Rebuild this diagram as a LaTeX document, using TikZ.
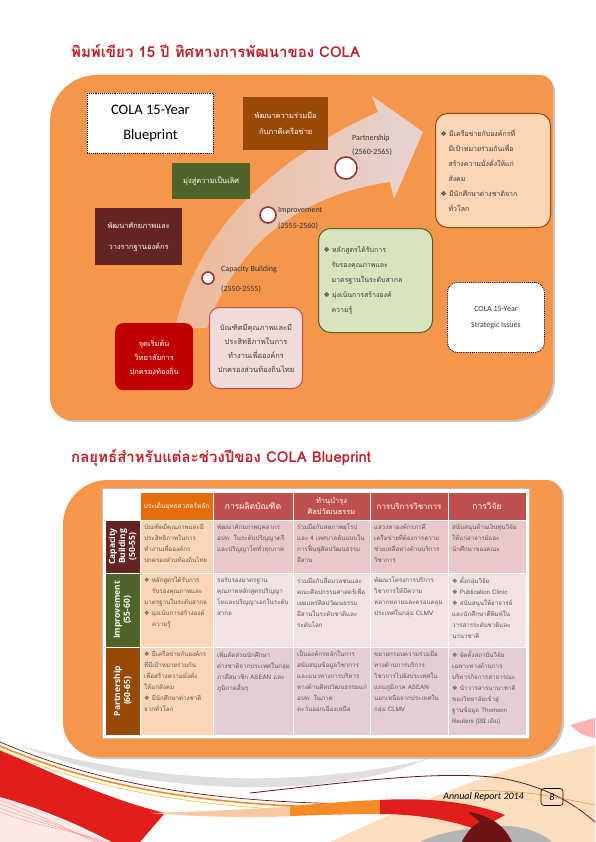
\documentclass[tikz,border=0pt]{standalone}
\usepackage{fontspec}
\setmainfont{Carlito}
\newfontfamily\thaifont[Script=Thai]{Loma}
\newfontfamily\djv{DejaVu Sans}
\newfontfamily\osans{Open Sans}
\definecolor{panelorange}{RGB}{245,150,74}
\definecolor{panelshadow}{RGB}{200,200,200}
\definecolor{titlered}{RGB}{192,30,40}
\definecolor{boxbrown}{RGB}{152,72,7}
\definecolor{boxolive}{RGB}{79,98,40}
\definecolor{boxmaroon}{RGB}{99,37,35}
\definecolor{boxred}{RGB}{192,0,0}
\definecolor{pinkfill}{RGB}{242,220,219}
\definecolor{pinkdraw}{RGB}{192,80,77}
\definecolor{greenfill}{RGB}{215,228,189}
\definecolor{peachfill}{RGB}{252,213,181}
\definecolor{circdraw}{RGB}{149,55,53}
\definecolor{bandpink}{RGB}{230,212,210}
\definecolor{bandlow}{RGB}{238,185,150}
\definecolor{hdrorange}{RGB}{228,108,10}
\definecolor{hdrred}{RGB}{192,80,77}
\definecolor{cellA}{RGB}{232,200,200}
\definecolor{cellB}{RGB}{242,226,226}
\definecolor{cellC}{RGB}{228,206,211}
\definecolor{cellpeach}{RGB}{251,213,181}
\definecolor{celltext}{RGB}{90,90,90}
\definecolor{boxtext}{RGB}{60,60,60}
\definecolor{lbltext}{RGB}{50,50,50}
\definecolor{decored}{RGB}{225,30,25}
\definecolor{decodark}{RGB}{110,20,20}
\definecolor{decopeach}{RGB}{253,222,190}
\definecolor{decogray}{RGB}{222,222,222}
\definecolor{decopink}{RGB}{252,232,230}
\definecolor{decoorange}{RGB}{245,140,40}
\definecolor{decolight}{RGB}{250,200,160}
\definecolor{decoyellow}{RGB}{250,200,90}
\definecolor{decogray2}{RGB}{180,180,180}
\newcommand\dbul{{\djv ❖}\ }
\newcommand\ind{\hspace*{8pt}}
\tikzset{
  ttl/.style={anchor=west, inner sep=0pt, text=titlered, font=\thaifont\bfseries\fontsize{15}{18}\selectfont},
  tbox/.style={anchor=north west, inner sep=2pt, align=center, text=white, font=\thaifont\fontsize{7.5}{16}\selectfont},
  circ/.style={circle, fill=white, draw=circdraw, line width=1.6pt, inner sep=0pt},
  lbl/.style={anchor=west, inner sep=0pt, text=lbltext, font=\fontsize{8}{9}\selectfont},
  hdr/.style={inner sep=0pt, align=center, text=white, font=\thaifont\fontsize{8.5}{10}\selectfont},
  rlab/.style={rotate=90, inner sep=0pt, align=center, text=white, font=\osans\bfseries\fontsize{8.5}{10}\selectfont},
  cell/.style={anchor=north west, inner xsep=4pt, inner ysep=4pt, align=left, text=celltext, font=\thaifont\fontsize{6.2}{11}\selectfont},
  cf/.style={draw=white, line width=0.8pt},
}
\begin{document}
\begin{tikzpicture}[x=1pt,y=-1pt]
\useasboundingbox (0,0) rectangle (595,842);
\fill[white] (0,0) rectangle (595,842);

% ---------- bottom decoration ----------
\fill[decopeach] (330,842) .. controls (420,800) and (500,768) .. (595,745) -- (595,842) -- cycle;
\fill[decopink] (0,790) .. controls (40,810) and (80,830) .. (110,842) -- (0,842) -- cycle;
\fill[decogray] (20,745) .. controls (100,780) and (220,795) .. (330,783) .. controls (380,777) and (405,768) .. (430,758) .. controls (380,772) and (300,780) .. (230,778) .. controls (150,775) and (80,763) .. (20,745) -- cycle;
\fill[red!30] (570,725) .. controls (582,735) .. (595,738) -- (595,718) -- cycle;
\fill[decored] (0,750) .. controls (50,772) and (110,800) .. (165,813) -- (140,842) -- (112,842) .. controls (70,820) and (30,805) .. (0,797) -- cycle;
\foreach \d in {0,4,8,12}{
  \draw[red!45, line width=0.3pt] (0,800+\d) .. controls (40,815+\d) and (70,830) .. (95+\d,842);
}
\draw[decodark, line width=0.7pt] (0,742) .. controls (100,785) and (220,805) .. (390,804);
\draw[decoorange, line width=1.6pt] (0,746) .. controls (100,789) and (220,809) .. (390,808);
\draw[decoyellow, line width=0.8pt] (0,750) .. controls (100,793) and (220,813) .. (390,812);
\fill[decolight] (150,813) .. controls (220,811) and (270,808) .. (300,806) -- (300,816) .. controls (250,818) and (200,817) .. (150,813) -- cycle;
\fill[decoorange] (290,806) .. controls (330,803) and (360,800) .. (385,800) -- (385,814) .. controls (350,814) and (320,815) .. (290,816) -- cycle;
\fill[decogray2] (420,842) .. controls (440,831) and (480,826) .. (510,826) .. controls (530,828) and (545,835) .. (552,842) -- cycle;
\fill[decored] (380,800) .. controls (430,797) and (475,803) .. (505,815) -- (478,830) .. controls (445,818) and (410,814) .. (380,814) -- cycle;
\fill[decodark] (468,812) .. controls (490,815) and (505,826) .. (512,842) -- (462,842) .. controls (466,833) and (472,826) .. (480,822) -- cycle;
\draw[decodark, line width=0.8pt] (250,793) .. controls (350,782) and (440,770) .. (500,778) .. controls (540,785) and (570,800) .. (595,822);
\draw[decoorange, line width=0.5pt] (470,790) .. controls (530,792) .. (595,805);
\draw[decolight, line width=0.5pt] (480,795) .. controls (540,800) .. (595,812);

% ---------- titles ----------
\node[ttl] (t1) at (71,51) {พิมพ์เขียว 15 ปี ทิศทางการพัฒนาของ COLA};
\node[ttl] (t2) at (71,458) {กลยุทธ์สำหรับแต่ละช่วงปีของ COLA Blueprint};

% ---------- top panel ----------
\fill[panelshadow] (52,124) .. controls (52,98) and (73,77) .. (99,77) -- (542,77) .. controls (549,77) and (555,83) .. (555,90) -- (555,380) .. controls (555,403) and (536,422) .. (513,422) -- (74,422) .. controls (62,422) and (52,412) .. (52,400) -- cycle;
\fill[panelorange] (50,122) .. controls (50,96) and (71,75) .. (97,75) -- (540,75) .. controls (547,75) and (553,81) .. (553,88) -- (553,378) .. controls (553,401) and (534,420) .. (511,420) -- (72,420) .. controls (60,420) and (50,410) .. (50,398) -- cycle;

% arrow band
\shade[left color=bandlow, right color=bandpink] (175,328) .. controls (195,240) and (260,165) .. (378,112) -- (372,96) -- (423,132) -- (394,199) -- (390,182) .. controls (300,195) and (235,245) .. (207,328) -- cycle;

\node[circ, minimum size=12pt] (c1) at (208,278) {};
\node[circ, minimum size=16pt] (c2) at (268,215) {};
\node[circ, minimum size=22pt] (c3) at (346,168) {};
\node[lbl] (l1) at (221,269) {Capacity Building};
\node[lbl] (l1y) at (221,289) {(2550-2555)};
\node[lbl] (l2) at (278,211) {Improvement};
\node[lbl] (l2y) at (278,226) {(2555-2560)};
\node[lbl] (l3) at (352,138) {Partnership};
\node[lbl] (l3y) at (352,152) {(2560-2565)};

\node[tbox, fill=white, draw=black, densely dotted, line width=0.9pt, text=black, minimum width=126pt, minimum height=60pt, font=\fontsize{14.5}{25}\selectfont] (bp) at (87,93) {COLA 15-Year\\Blueprint};
\node[tbox, fill=boxbrown, minimum width=85pt, minimum height=53pt] (b1) at (243,97) {พัฒนาความร่วมมือ\\กับภาคีเครือข่าย};
\node[tbox, fill=boxolive, minimum width=78pt, minimum height=36pt] (b2) at (172,163) {มุ่งสู่ความเป็นเลิศ};
\node[tbox, fill=boxmaroon, minimum width=87pt, minimum height=57pt, font=\thaifont\fontsize{7.5}{21}\selectfont] (b3) at (95,208) {พัฒนาศักยภาพและ\\วางรากฐานองค์กร};
\node[tbox, fill=boxred, rounded corners=8pt, minimum width=78pt, minimum height=67pt, font=\thaifont\fontsize{7.5}{14}\selectfont] (b4) at (115,323) {จุดเริ่มต้น\\วิทยาลัยการ\\ปกครองท้องถิ่น};
\node[tbox, fill=pinkfill, draw=pinkdraw, line width=1pt, rounded corners=10pt, text=boxtext, minimum width=93pt, minimum height=81pt, font=\thaifont\fontsize{7.5}{14}\selectfont] (b5) at (209,307) {บัณฑิตมีคุณภาพและมี\\ประสิทธิภาพในการ\\ทำงานเพื่อองค์กร\\ปกครองส่วนท้องถิ่นไทย};
\node[tbox, fill=greenfill, draw=boxolive, line width=1pt, rounded corners=12pt, text=boxtext, align=left, text width=104pt, minimum height=104pt, inner xsep=5pt, font=\thaifont\fontsize{7}{15}\selectfont] (b6) at (318,228) {\dbul หลักสูตรได้รับการ\\\ind รับรองคุณภาพและ\\\ind มาตรฐานในระดับสากล\\\dbul มุ่งเน้นการสร้างองค์\\\ind ความรู้};
\node[tbox, fill=peachfill, draw=boxbrown, line width=1pt, rounded corners=12pt, text=boxtext, align=left, text width=105pt, minimum height=114pt, inner xsep=5pt, font=\thaifont\fontsize{7}{15}\selectfont] (b7) at (435,113) {\dbul มีเครือข่ายกับองค์กรที่\\\ind มีเป้าหมายร่วมกันเพื่อ\\\ind สร้างความมั่งคั่งให้แก่\\\ind สังคม\\\dbul มีนักศึกษาต่างชาติจาก\\\ind ทั่วโลก};
\node[tbox, fill=white, draw=black, densely dotted, line width=0.9pt, rounded corners=10pt, text=boxtext, minimum width=97pt, minimum height=70pt, font=\fontsize{8}{16}\selectfont] (b8) at (447,282) {COLA 15-Year\\Strategic Issues};

% ---------- table panel ----------
\fill[panelshadow] (65,527) .. controls (65,502) and (85,482) .. (110,482) -- (549,482) .. controls (557,482) and (564,489) .. (564,497) -- (564,722) .. controls (564,742) and (547,759) .. (527,759) -- (102,759) .. controls (82,759) and (65,744) .. (65,724) -- cycle;
\fill[panelorange] (63,525) .. controls (63,500) and (83,480) .. (108,480) -- (547,480) .. controls (555,480) and (562,487) .. (562,495) -- (562,720) .. controls (562,740) and (545,757) .. (525,757) -- (100,757) .. controls (80,757) and (63,742) .. (63,722) -- cycle;
\fill[white, draw=gray!50, line width=0.5pt] (102,488) rectangle (529,738);

% header
\filldraw[cf, fill=hdrorange] (140,492) rectangle (213,520);
\filldraw[cf, fill=hdrred] (213,492) rectangle (293,520);
\filldraw[cf, fill=hdrred] (293,492) rectangle (370,520);
\filldraw[cf, fill=hdrred] (370,492) rectangle (448,520);
\filldraw[cf, fill=hdrred] (448,492) rectangle (526,520);
\node[hdr, font=\thaifont\fontsize{6.5}{8}\selectfont] (h1) at (176.5,506) {ประเด็นยุทธศาสตร์หลัก};
\node[hdr] (h2) at (253,506) {การผลิตบัณฑิต};
\node[hdr, font=\thaifont\fontsize{7.5}{11}\selectfont] (h3) at (331.5,506) {ทำนุบำรุง\\ศิลปวัฒนธรรม};
\node[hdr, font=\thaifont\fontsize{8}{10}\selectfont] (h4) at (409,506) {การบริการวิชาการ};
\node[hdr] (h5) at (487,506) {การวิจัย};

% row labels
\filldraw[cf, fill=boxmaroon] (105,520) rectangle (140,573);
\filldraw[cf, fill=boxolive] (105,573) rectangle (140,647);
\filldraw[cf, fill=boxbrown] (105,647) rectangle (140,735);
\node[rlab] (rl1) at (122.5,546.5) {Capacity\\Building\\(50-55)};
\node[rlab] (rl2) at (122.5,610) {Improvement\\(55-60)};
\node[rlab] (rl3) at (122.5,691) {Partnership\\(60-65)};

% cell fills
\filldraw[cf, fill=cellpeach] (140,520) rectangle (213,573);
\filldraw[cf, fill=cellpeach] (140,573) rectangle (213,647);
\filldraw[cf, fill=cellpeach] (140,647) rectangle (213,735);
\foreach \xa/\xb in {213/293,293/370,370/448,448/526}{
  \filldraw[cf, fill=cellA] (\xa,520) rectangle (\xb,573);
  \filldraw[cf, fill=cellB] (\xa,573) rectangle (\xb,647);
  \filldraw[cf, fill=cellC] (\xa,647) rectangle (\xb,735);
}

% row 1
\node[cell, text width=65pt] (r1c1) at (140,520) {บัณฑิตมีคุณภาพและมี\\ประสิทธิภาพในการ\\ทำงานเพื่อองค์กร\\ปกครองส่วนท้องถิ่นไทย};
\node[cell, text width=72pt] (r1c2) at (213,520) {พัฒนาศักยภาพบุคลากร\\อปท. ในระดับปริญญาตรี\\และปริญญาโททั่วทุกภาค};
\node[cell, text width=69pt] (r1c3) at (293,520) {ร่วมมือกับสหภาพยุโรป\\และ 4 เทศบาลต้นแบบใน\\การฟื้นฟูศิลปวัฒนธรรม\\อีสาน};
\node[cell, text width=70pt] (r1c4) at (370,520) {แสวงหาองค์กรภาคี\\เครือข่ายที่ต้องการความ\\ช่วยเหลือทางด้านบริการ\\วิชาการ};
\node[cell, text width=70pt] (r1c5) at (448,520) {สนับสนุนด้านเงินทุนวิจัย\\ให้แก่อาจารย์และ\\นักศึกษาของคณะ};

% row 2
\node[cell, text width=65pt] (r2c1) at (140,573) {\dbul หลักสูตรได้รับการ\\\ind รับรองคุณภาพและ\\มาตรฐานในระดับสากล\\\dbul มุ่งเน้นการสร้างองค์\\\ind ความรู้};
\node[cell, text width=72pt] (r2c2) at (213,573) {รอรับรองมาตรฐาน\\คุณภาพหลักสูตรปริญญา\\โทและปริญญาเอกในระดับ\\สากล};
\node[cell, text width=69pt] (r2c3) at (293,573) {ร่วมมือกับสื่อมวลชนและ\\คณะศิลปกรรมศาสตร์เพื่อ\\เผยแพร่ศิลปวัฒนธรรม\\อีสานในระดับชาติและ\\ระดับโลก};
\node[cell, text width=70pt] (r2c4) at (370,573) {พัฒนาโครงการบริการ\\วิชาการให้มีความ\\หลากหลายและครอบคลุม\\ประเทศในกลุ่ม CLMV};
\node[cell, text width=70pt] (r2c5) at (448,573) {\dbul ตั้งกลุ่มวิจัย\\\dbul Publication Clinic\\\dbul สนับสนุนให้อาจารย์\\และนักศึกษาตีพิมพ์ใน\\วารสารระดับชาติและ\\นานาชาติ};

% row 3
\node[cell, text width=65pt] (r3c1) at (140,647) {\dbul มีเครือข่ายกับองค์กร\\ที่มีเป้าหมายร่วมกัน\\เพื่อสร้างความมั่งคั่ง\\ให้แก่สังคม\\\dbul มีนักศึกษาต่างชาติ\\จากทั่วโลก};
\node[cell, text width=72pt] (r3c2) at (213,647) {เพิ่มสัดส่วนนักศึกษา\\ต่างชาติจากประเทศในกลุ่ม\\ภาคีสมาชิก ASEAN และ\\ภูมิภาคอื่นๆ};
\node[cell, text width=69pt] (r3c3) at (293,647) {เป็นองค์กรหลักในการ\\สนับสนุนข้อมูลวิชาการ\\และแนวทางการบริหาร\\ทางด้านศิลปวัฒนธรรมแก่\\อปท. ในภาค\\ตะวันออกเฉียงเหนือ};
\node[cell, text width=70pt] (r3c4) at (370,647) {ขยายกรอบความร่วมมือ\\ทางด้านการบริการ\\วิชาการไปยังประเทศใน\\แถบภูมิภาค ASEAN\\นอกเหนือจากประเทศใน\\กลุ่ม CLMV};
\node[cell, text width=70pt] (r3c5) at (448,647) {\dbul จัดตั้งสถาบันวิจัย\\เฉพาะทางด้านการ\\บริหารกิจการสาธารณะ\\\dbul นำวารสารนานาชาติ\\ของวิทยาลัยเข้าสู่\\ฐานข้อมูล Thomson\\Reuters (ISI เดิม)};

% ---------- footer ----------
\node[anchor=east, inner sep=0pt, font=\itshape\fontsize{10}{12}\selectfont, text=black] (ar) at (524,797) {Annual Report 2014};
\node[draw=black, rounded corners=3pt, line width=0.6pt, minimum width=22pt, minimum height=17pt, inner sep=0pt, font=\itshape\fontsize{10}{12}\selectfont] (pg) at (552,797) {8};
\end{tikzpicture}
\end{document}
